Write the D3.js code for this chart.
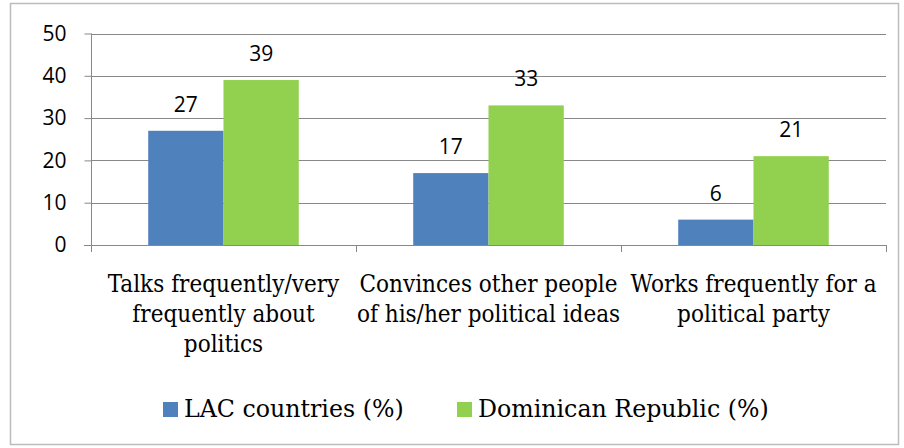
<!DOCTYPE html>
<html>
<head>
<meta charset="utf-8">
<script src="https://cdn.jsdelivr.net/npm/d3@7"></script>
<style>
  html, body { margin: 0; padding: 0; background: #fff; }
  svg { display: block; }
  .serif-c { font-family: "DejaVu Serif Condensed", "DejaVu Serif", serif; }
  .serif { font-family: "DejaVu Serif", serif; }
  .sans { font-family: "Open Sans", "Liberation Sans", sans-serif; }
</style>
</head>
<body>
<svg id="chart" width="904" height="448"></svg>
<script>
const categories = [
  ["Talks frequently/very", "frequently about", "politics"],
  ["Convinces other people", "of his/her political ideas"],
  ["Works frequently for a", "political party"]
];
const seriesNames = ["LAC countries (%)", "Dominican Republic (%)"];
const lacValues = [27, 17, 6];
const drValues = [39, 33, 21];
const yTicks = [0, 10, 20, 30, 40, 50];
const colors = ["#4f81bd", "#92d050"];

const svg = d3.select("#chart");
const plotLeft = 91, plotRight = 886, plotTop = 33.5, plotBottom = 245;

// outer frame
svg.append("rect")
  .attr("x", 10.5).attr("y", 3.5).attr("width", 888).attr("height", 441)
  .attr("fill", "#fff").attr("stroke", "#bcbcbc").attr("stroke-width", 1.5);

const y = d3.scaleLinear().domain([0, 50]).range([plotBottom, plotTop]);
const x0 = d3.scaleBand().domain(d3.range(categories.length)).range([plotLeft, plotRight]);
const x1 = d3.scaleBand().domain(d3.range(seriesNames.length))
  .range([0, x0.bandwidth()]).paddingOuter(0.76).paddingInner(0);

const gridColor = "#888888";

// gridlines
svg.append("g").selectAll("line").data(yTicks.filter(d => d > 0)).join("line")
  .attr("x1", plotLeft).attr("x2", plotRight)
  .attr("y1", d => Math.round(y(d)) + 0.5).attr("y2", d => Math.round(y(d)) + 0.5)
  .attr("stroke", gridColor).attr("stroke-width", 1);

// y axis
const yAxis = d3.axisLeft(y).tickValues(yTicks).tickSize(7).tickPadding(18).tickFormat(d3.format("d"));
const gy = svg.append("g").attr("transform", `translate(${plotLeft + 0.5},0)`).call(yAxis);
gy.select(".domain").attr("stroke", gridColor).attr("d", `M0,${plotTop}V${plotBottom}`);
gy.selectAll(".tick line").attr("stroke", gridColor);
gy.selectAll(".tick text")
  .attr("class", "sans").attr("font-family", null)
  .attr("font-size", 21).attr("fill", "#000");

// x axis with ticks at category boundaries
const xAxisG = svg.append("g");
xAxisG.append("line").attr("x1", plotLeft - 7).attr("x2", plotRight)
  .attr("y1", plotBottom + 0.5).attr("y2", plotBottom + 0.5).attr("stroke", gridColor);
const boundaries = d3.range(categories.length + 1).map(i => i === categories.length ? plotRight : x0(i));
xAxisG.selectAll("line.b").data(boundaries).join("line").attr("class", "b")
  .attr("x1", d => d + 0.5).attr("x2", d => d + 0.5)
  .attr("y1", plotBottom).attr("y2", plotBottom + 7).attr("stroke", gridColor);

// bars
const data = categories.map((c, i) => [lacValues[i], drValues[i]]);
const groups = svg.append("g").selectAll("g").data(data).join("g")
  .attr("transform", (d, i) => `translate(${x0(i)},0)`);
groups.selectAll("rect").data(d => d).join("rect")
  .attr("x", (d, j) => x1(j)).attr("width", x1.bandwidth())
  .attr("y", d => y(d)).attr("height", d => plotBottom - y(d))
  .attr("fill", (d, j) => colors[j]);
groups.selectAll("text").data(d => d).join("text")
  .attr("class", "sans")
  .attr("x", (d, j) => x1(j) + x1.bandwidth() / 2)
  .attr("y", d => y(d) - 19)
  .attr("text-anchor", "middle")
  .attr("font-size", 21).attr("fill", "#000")
  .text(d => d);

// category labels
const catG = svg.append("g").selectAll("text").data(categories).join("text")
  .attr("class", "serif-c")
  .attr("text-anchor", "middle")
  .attr("font-size", 24).attr("fill", "#000")
  .attr("transform", (d, i) => `translate(${x0(i) + x0.bandwidth() / 2},292)`);
catG.selectAll("tspan").data(d => d).join("tspan")
  .attr("x", 0).attr("dy", (d, k) => k === 0 ? 0 : 30)
  .text(d => d);

// legend
const legendItems = [{ x: 163, name: seriesNames[0], c: colors[0] }, { x: 457, name: seriesNames[1], c: colors[1] }];
const lg = svg.append("g").selectAll("g").data(legendItems).join("g")
  .attr("transform", d => `translate(${d.x},0)`);
lg.append("rect").attr("x", 0).attr("y", 402).attr("width", 15).attr("height", 15).attr("fill", d => d.c);
lg.append("text").attr("class", "serif").attr("x", 21).attr("y", 417)
  .attr("font-size", 23.7).attr("fill", "#000")
  .text(d => d.name);
</script>
</body>
</html>
